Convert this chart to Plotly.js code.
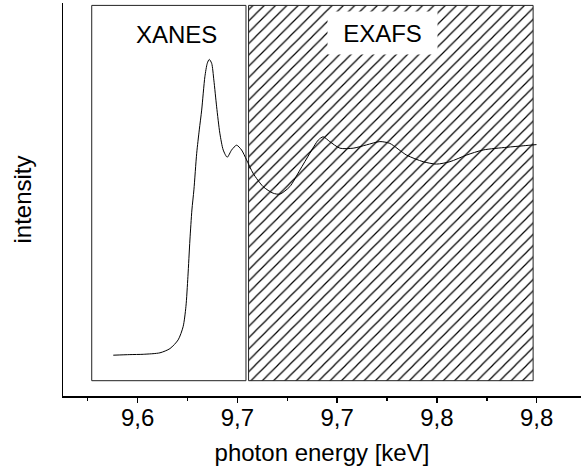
<!DOCTYPE html>
<html>
<head>
<meta charset="utf-8">
<script src="https://cdn.plot.ly/plotly-3.0.1.min.js"></script>
<style>html,body{margin:0;padding:0;background:#fff;}#chart{width:581px;height:476px;}</style>
</head>
<body>
<div id="chart"></div>
<script>
// photon energy (keV) and intensity (arb. units)
const energy = [9.5878, 9.5961, 9.6028, 9.6112, 9.6162, 9.6203, 9.6228, 9.6242, 9.6252, 9.6262,
  9.6272, 9.6282, 9.6296, 9.6309, 9.6321, 9.6337, 9.6349, 9.6359, 9.6371, 9.6382,
  9.6396, 9.6412, 9.6429, 9.6449, 9.6471, 9.6496, 9.6521, 9.6546, 9.6579, 9.6629,
  9.6679, 9.6713, 9.6763, 9.6813, 9.6863, 9.6905, 9.6930, 9.6963, 9.7014, 9.7080,
  9.7147, 9.7214, 9.7264, 9.7348, 9.7431, 9.7498, 9.7565, 9.7648, 9.7731, 9.7849,
  9.7932, 9.7999];
const intensity = [0.136, 0.138, 0.139, 0.144, 0.158, 0.187, 0.231, 0.298, 0.398, 0.520,
  0.620, 0.687, 0.809, 0.887, 0.953, 1.064, 1.109, 1.122, 1.109, 1.053,
  0.964, 0.876, 0.820, 0.796, 0.820, 0.836, 0.820, 0.787, 0.742, 0.698,
  0.676, 0.673, 0.698, 0.753, 0.809, 0.853, 0.864, 0.848, 0.826, 0.826,
  0.837, 0.848, 0.842, 0.803, 0.781, 0.773, 0.781, 0.803, 0.820, 0.829,
  0.834, 0.838];

// region boundaries (keV) and vertical extent (arb. units)
const regionNames = ["XANES", "EXAFS"];
const xanesRange = [9.5770, 9.6543];
const exafsRange = [9.6556, 9.7982];
const regionY = [0.051, 1.302];
const labelX = [9.6197, 9.7229];
const labelY = [1.205, 1.210];

// axis ticks
const tickValues = [9.60, 9.65, 9.70, 9.75, 9.80];

const FONT = "Liberation Sans, Arial, Helvetica, sans-serif";
const FS = 24;

const exafsBox = {
  x: [exafsRange[0], exafsRange[1], exafsRange[1], exafsRange[0], exafsRange[0]],
  y: [regionY[0], regionY[0], regionY[1], regionY[1], regionY[0]],
  type: "scatter", mode: "lines", fill: "toself",
  fillcolor: "white",
  fillpattern: {shape: "/", size: 8, solidity: 0.15, fgcolor: "#000", bgcolor: "#fff"},
  line: {color: "#222", width: 1},
  hoverinfo: "skip", showlegend: false
};

const spectrum = {
  x: energy, y: intensity, type: "scatter", mode: "lines",
  line: {color: "#000", width: 1, shape: "spline", smoothing: 0.7},
  showlegend: false
};

const layout = {
  width: 581, height: 476,
  margin: {l: 63, r: 0, t: 3, b: 80},
  paper_bgcolor: "#fff", plot_bgcolor: "#fff",
  separators: ",.",
  font: {family: FONT, size: FS, color: "#000"},
  xaxis: {
    range: [9.5626, 9.8222],
    tickvals: tickValues, tickformat: ".1f",
    ticks: "outside", ticklen: 5, tickwidth: 1.5, tickcolor: "#000",
    ticklabelstandoff: -5,
    minor: {ticks: "outside", ticklen: 3, tickwidth: 1.5, tickcolor: "#000", dtick: 0.025, tick0: 9.575, showgrid: false},
    showline: true, linewidth: 1.5, linecolor: "#000",
    showgrid: false, zeroline: false,
    tickfont: {family: FONT, size: FS, color: "#000"},
    title: {text: "photon energy [keV]", font: {family: FONT, size: FS, color: "#000"}, standoff: 14}
  },
  yaxis: {
    range: [0, 1.31],
    showticklabels: false, ticks: "",
    showline: true, linewidth: 1.5, linecolor: "#000",
    showgrid: false, zeroline: false,
    title: {text: "intensity", font: {family: FONT, size: FS, color: "#000"}, standoff: 23}
  },
  shapes: [{
    type: "rect", xref: "x", yref: "y",
    x0: xanesRange[0], x1: xanesRange[1], y0: regionY[0], y1: regionY[1],
    line: {color: "#222", width: 1}, fillcolor: "rgba(0,0,0,0)", layer: "below"
  }],
  annotations: [
    {x: labelX[0], y: labelY[0], xref: "x", yref: "y",
     text: regionNames[0], showarrow: false, font: {family: FONT, size: FS, color: "#000"}},
    {x: labelX[1], y: labelY[1], xref: "x", yref: "y",
     text: regionNames[1], showarrow: false, bgcolor: "#fff", width: 109, height: 42, borderpad: 0,
     font: {family: FONT, size: FS, color: "#000"}}
  ]
};

Plotly.newPlot("chart", [exafsBox, spectrum], layout, {displayModeBar: false, staticPlot: true});
</script>
</body>
</html>
